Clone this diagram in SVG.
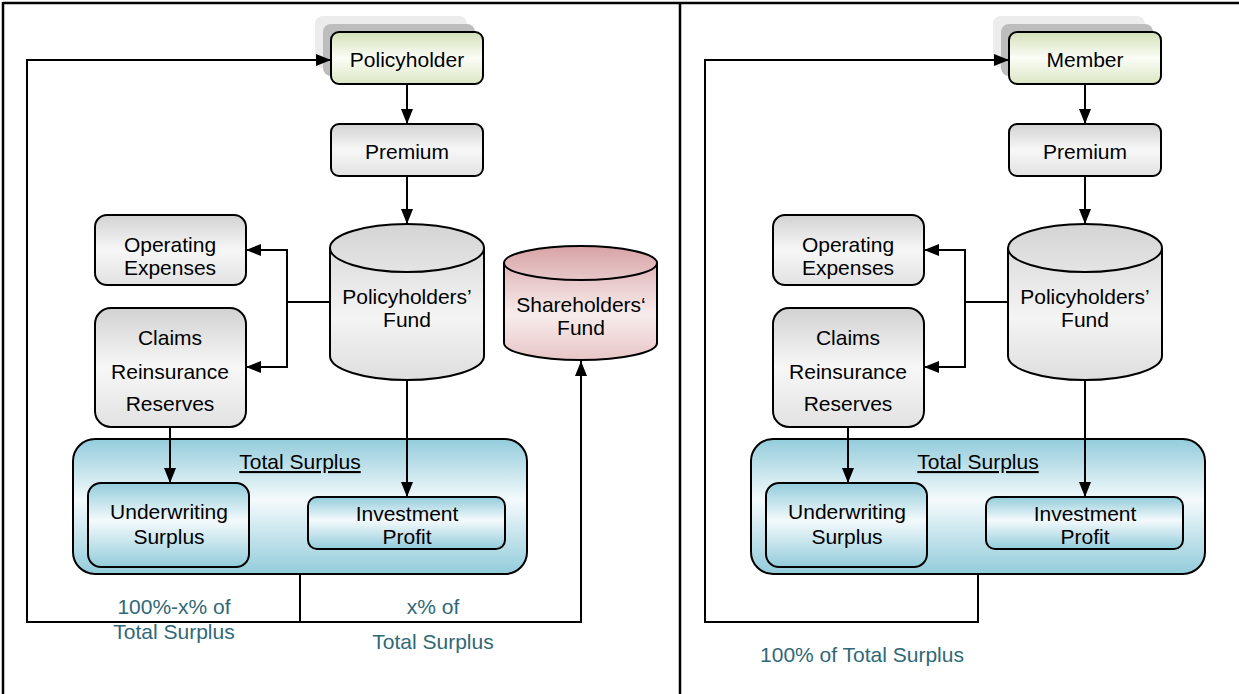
<svg xmlns="http://www.w3.org/2000/svg" width="1239" height="694" viewBox="0 0 1239 694">
<style>
text{font-family:"Liberation Sans",Arial,sans-serif;font-size:21px;fill:#000;text-anchor:middle}
.lbl{fill:#2f6877}
.box{stroke:#000;stroke-width:2}
.ln{fill:none;stroke:#000;stroke-width:2}
.frame{fill:none;stroke:#000;stroke-width:2.5}
</style>
<defs>
<linearGradient id="gGray" x1="0" y1="0" x2="0" y2="1">
<stop offset="0" stop-color="#d2d2d2"/><stop offset="0.5" stop-color="#f7f7f7"/><stop offset="1" stop-color="#e2e2e2"/>
</linearGradient>
<linearGradient id="gGreen" x1="0" y1="0" x2="0" y2="1">
<stop offset="0" stop-color="#d3e0b8"/><stop offset="0.5" stop-color="#fbfdf6"/><stop offset="1" stop-color="#dbe6c4"/>
</linearGradient>
<linearGradient id="gBlue" x1="0" y1="0" x2="0" y2="1">
<stop offset="0" stop-color="#93ccdb"/><stop offset="0.45" stop-color="#f4fafc"/><stop offset="1" stop-color="#93ccdb"/>
</linearGradient>
<linearGradient id="gPink" x1="0" y1="0" x2="0" y2="1">
<stop offset="0" stop-color="#d8a3a6"/><stop offset="0.6" stop-color="#f8ecec"/><stop offset="1" stop-color="#e8c6c7"/>
</linearGradient>
<linearGradient id="gCyl" x1="0" y1="0" x2="0" y2="1">
<stop offset="0" stop-color="#d4d4d4"/><stop offset="0.6" stop-color="#f4f4f4"/><stop offset="1" stop-color="#dedede"/>
</linearGradient>
<marker id="arr" viewBox="0 0 15 12" refX="15" refY="6" markerWidth="15" markerHeight="12" markerUnits="userSpaceOnUse" orient="auto">
<path d="M0,0 L15,6 L0,12 z" fill="#000"/>
</marker>
</defs>

<g id="frame">
<line class="frame" x1="3" y1="3" x2="1239" y2="3"/>
<line class="frame" x1="3" y1="2" x2="3" y2="694"/>
<line class="frame" x1="680" y1="2" x2="680" y2="694"/>
</g>

<!-- LEFT PANEL -->
<g id="policyholder">
<rect x="315" y="16" width="152" height="52" rx="8" fill="#ececec"/>
<rect x="323" y="24" width="152" height="52" rx="8" fill="#bdbdbd"/>
<rect class="box" x="331" y="32" width="152" height="52" rx="8" fill="url(#gGreen)"/>
<text x="407" y="67">Policyholder</text>
</g>
<g id="premium">
<rect class="box" x="331" y="124" width="152" height="52" rx="8" fill="url(#gGray)"/>
<text x="407" y="159">Premium</text>
</g>
<g id="policyholders-fund">
<path class="box" d="M330,248 L330,356 A77,24 0 0 0 484,356 L484,248 A77,24 0 0 0 330,248 z" fill="url(#gCyl)"/>
<path class="ln" d="M330,248 A77,24 0 0 0 484,248"/>
<text x="407" y="304">Policyholders’</text>
<text x="407" y="327">Fund</text>
</g>
<g id="shareholders-fund">
<path class="box" d="M504,263 L504,343 A76.5,17 0 0 0 657,343 L657,263 A76.5,17 0 0 0 504,263 z" fill="url(#gPink)"/>
<path class="ln" d="M504,263 A76.5,17 0 0 0 657,263"/>
<text x="581" y="312">Shareholders‘</text>
<text x="581" y="335">Fund</text>
</g>
<g id="operating-expenses">
<rect class="box" x="95" y="215" width="151" height="70" rx="12" fill="url(#gGray)"/>
<text x="170" y="252">Operating</text>
<text x="170" y="275">Expenses</text>
</g>
<g id="claims">
<rect class="box" x="95" y="308" width="151" height="119" rx="16" fill="url(#gGray)"/>
<text x="170" y="345">Claims</text>
<text x="170" y="379">Reinsurance</text>
<text x="170" y="411">Reserves</text>
</g>
<g id="total-surplus">
<rect class="box" x="73" y="439" width="454" height="135" rx="22" fill="url(#gBlue)"/>
<text x="300" y="469" text-decoration="underline">Total Surplus</text>
</g>
<g id="underwriting-surplus">
<rect class="box" x="88" y="483" width="161" height="84" rx="13" fill="url(#gBlue)"/>
<text x="169" y="519">Underwriting</text>
<text x="169" y="544">Surplus</text>
</g>
<g id="investment-profit">
<rect class="box" x="308" y="497" width="197" height="52" rx="9" fill="url(#gBlue)"/>
<text x="407" y="521">Investment</text>
<text x="407" y="544">Profit</text>
</g>
<g id="labels-left">
<text class="lbl" x="174" y="614">100%-x% of</text>
<text class="lbl" x="174" y="639">Total Surplus</text>
<text class="lbl" x="433" y="614">x% of</text>
<text class="lbl" x="433" y="649">Total Surplus</text>
</g>

<!-- RIGHT PANEL -->
<g id="member">
<rect x="993" y="16" width="152" height="52" rx="8" fill="#ececec"/>
<rect x="1001" y="24" width="152" height="52" rx="8" fill="#bdbdbd"/>
<rect class="box" x="1009" y="32" width="152" height="52" rx="8" fill="url(#gGreen)"/>
<text x="1085" y="67">Member</text>
</g>
<g id="premium-r">
<rect class="box" x="1009" y="124" width="152" height="52" rx="8" fill="url(#gGray)"/>
<text x="1085" y="159">Premium</text>
</g>
<g id="policyholders-fund-r">
<path class="box" d="M1008,248 L1008,356 A77,24 0 0 0 1162,356 L1162,248 A77,24 0 0 0 1008,248 z" fill="url(#gCyl)"/>
<path class="ln" d="M1008,248 A77,24 0 0 0 1162,248"/>
<text x="1085" y="304">Policyholders’</text>
<text x="1085" y="327">Fund</text>
</g>
<g id="operating-expenses-r">
<rect class="box" x="773" y="215" width="151" height="70" rx="12" fill="url(#gGray)"/>
<text x="848" y="252">Operating</text>
<text x="848" y="275">Expenses</text>
</g>
<g id="claims-r">
<rect class="box" x="773" y="308" width="151" height="119" rx="16" fill="url(#gGray)"/>
<text x="848" y="345">Claims</text>
<text x="848" y="379">Reinsurance</text>
<text x="848" y="411">Reserves</text>
</g>
<g id="total-surplus-r">
<rect class="box" x="751" y="439" width="454" height="135" rx="22" fill="url(#gBlue)"/>
<text x="978" y="469" text-decoration="underline">Total Surplus</text>
</g>
<g id="underwriting-surplus-r">
<rect class="box" x="766" y="483" width="161" height="84" rx="13" fill="url(#gBlue)"/>
<text x="847" y="519">Underwriting</text>
<text x="847" y="544">Surplus</text>
</g>
<g id="investment-profit-r">
<rect class="box" x="986" y="497" width="197" height="52" rx="9" fill="url(#gBlue)"/>
<text x="1085" y="521">Investment</text>
<text x="1085" y="544">Profit</text>
</g>
<g id="labels-right">
<text class="lbl" x="862" y="662">100% of Total Surplus</text>
</g>

<g id="connectors">
<!-- left -->
<line class="ln" x1="407" y1="84" x2="407" y2="124" marker-end="url(#arr)"/>
<line class="ln" x1="407" y1="176" x2="407" y2="224" marker-end="url(#arr)"/>
<line class="ln" x1="330" y1="302" x2="287" y2="302"/>
<polyline class="ln" points="287,367 287,250 246,250" marker-end="url(#arr)"/>
<polyline class="ln" points="287,302 287,367 246,367" marker-end="url(#arr)"/>
<line class="ln" x1="170" y1="427" x2="170" y2="483" marker-end="url(#arr)"/>
<line class="ln" x1="407" y1="380" x2="407" y2="497" marker-end="url(#arr)"/>
<line class="ln" x1="300" y1="574" x2="300" y2="622"/>
<polyline class="ln" points="300,622 27,622 27,60 331,60" marker-end="url(#arr)"/>
<polyline class="ln" points="300,622 581,622 581,361" marker-end="url(#arr)"/>
<!-- right -->
<line class="ln" x1="1085" y1="84" x2="1085" y2="124" marker-end="url(#arr)"/>
<line class="ln" x1="1085" y1="176" x2="1085" y2="224" marker-end="url(#arr)"/>
<line class="ln" x1="1008" y1="302" x2="965" y2="302"/>
<polyline class="ln" points="965,367 965,250 924,250" marker-end="url(#arr)"/>
<polyline class="ln" points="965,302 965,367 924,367" marker-end="url(#arr)"/>
<line class="ln" x1="848" y1="427" x2="848" y2="483" marker-end="url(#arr)"/>
<line class="ln" x1="1085" y1="380" x2="1085" y2="497" marker-end="url(#arr)"/>
<polyline class="ln" points="978,574 978,622 705,622 705,60 1009,60" marker-end="url(#arr)"/>
</g>
</svg>
